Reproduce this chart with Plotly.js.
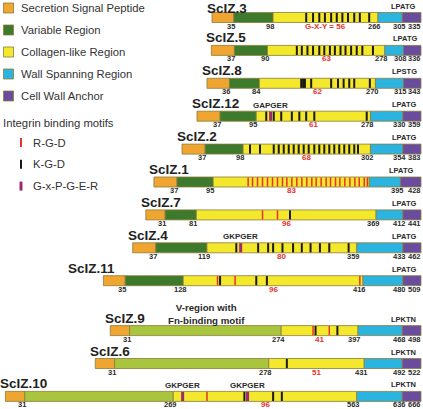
<!DOCTYPE html>
<html><head><meta charset="utf-8">
<script src="https://cdn.plot.ly/plotly-3.0.1.min.js"></script>
<style>html,body{margin:0;padding:0;background:#fff}#chart{width:423px;height:409px}</style>
</head><body><div id="chart"></div>
<script>
// ---- data (amino-acid positions) ----
const proteins     = ['ScIZ.3','ScIZ.5','ScIZ.8','ScIZ.12','ScIZ.2','ScIZ.1','ScIZ.7','ScIZ.4','ScIZ.11','ScIZ.9','ScIZ.6','ScIZ.10'];
const lengths      = [335, 336, 343, 359, 383, 428, 441, 462, 509, 498, 522, 666];
const signalEnd    = [35, 37, 36, 37, 37, 37, 31, 37, 35, 31, 31, 31];
const variableEnd  = [98, 90, 84, 95, 98, 95, 81, 119, 128, 274, 278, 269];
const collagenEnd  = [266, 278, 270, 278, 302, 345, 369, 359, 416, 397, 431, 563];
const collagenEndLabelled = [true, true, true, true, true, false, true, true, true, true, true, true];
const anchorStart  = [305, 308, 315, 330, 354, 395, 412, 433, 480, 468, 492, 636];
const fnBindingV   = [false, false, false, false, false, false, false, false, false, true, true, true];
const gxyCounts    = ['G-X-Y = 56', '63', '62', '61', '68', '83', '96', '80', '96', '41', '51', '96'];
const sortingMotif = ['LPATG','LPATG','LPSTG','LPATG','LPATG','LPATG','LPATG','LPATG','LPATG','LPKTN','LPKTN','LPKTN'];
const rgdSites = [
  [], [], [], [], [],
  [151,158,166,174,182,190,198,206,213,221,229,237,245,253,260,268,276,283,291,298,306,314,322,329,337,342],
  [187, 211], [], [183, 211, 411], [325, 351], [], [323]
];
const kgdSites = [
  [151,162,172,181,191,200,209,218,228,237,252],
  [137,145,154,163,173,181,190,198,207,215,224,233,242,259],
  [151,154,157,167,199,210,219,228,236,261],
  [111,123,135,152,164,175,188,272],
  [109,125,147,155,163,171,179,187,195,203,212,220,228,236,244,252,260,268,276,282],
  [], [231],
  [166,201,217,225,240,257,271,285,300,315,346],
  [187, 245, 262], [329, 364], [307], [383, 429, 443]
];
const gxpgerSites  = [[], [], [], [118], [], [], [], [173], [], [], [], [284, 388]];
const gxpgerLabels = [[], [], [], ['GAPGER'], [], [], [], ['GKPGER'], [], [], [], ['GKPGER', 'GKPGER']];
const legendRegions = ['Secretion Signal Peptide','Variable Region','Collagen-like Region','Wall Spanning Region','Cell Wall Anchor'];
const legendMotifs  = ['R-G-D','K-G-D','G-x-P-G-E-R'];

// ---- styles ----
const W = 423, H = 409;
const COL = {signal:'#EFA52F', variable:'#3E7A2C', fn:'#A9C53E', collagen:'#F3E82C', wall:'#2BB4E0', anchor:'#6A4C9E'};
const OUT = '#8A7C3C';
const MOTIF = {rgd:'#E8322B', kgd:'#1A1A1A', gx:'#9E2A6E'};
const FONT = 'Arial, "Liberation Sans", sans-serif';
const TXT = '#2a2a2a';
const shapes = [], annotations = [];
function rowY(i){ return 17.5 + 32.9 * i + (i >= 9 ? 17 : 0); }
function px(p){ return p / W; }
function ann(o){ annotations.push(Object.assign({showarrow:false, xref:'x', yref:'y', borderpad:0}, o)); }

proteins.forEach((name, i) => {
  const L = lengths[i], off = -L, yc = rowY(i), top = yc - 5, bot = yc + 5;
  const segs = [
    [0, signalEnd[i], COL.signal],
    [signalEnd[i], variableEnd[i], fnBindingV[i] ? COL.fn : COL.variable],
    [variableEnd[i], collagenEnd[i], COL.collagen],
    [collagenEnd[i], anchorStart[i], COL.wall],
    [anchorStart[i], L, COL.anchor]
  ];
  segs.forEach(s => shapes.push({type:'rect', xref:'x', yref:'y', x0:s[0]+off, x1:s[1]+off, y0:top, y1:bot,
    fillcolor:s[2], line:{color:OUT, width:0.8}}));
  kgdSites[i].forEach(p => shapes.push({type:'line', xref:'x', yref:'y', x0:p+off, x1:p+off, y0:top+0.4, y1:bot-0.4, line:{color:MOTIF.kgd, width:2}}));
  rgdSites[i].forEach(p => shapes.push({type:'line', xref:'x', yref:'y', x0:p+off, x1:p+off, y0:top+0.4, y1:bot-0.4, line:{color:MOTIF.rgd, width:1.5}}));
  gxpgerSites[i].forEach((p, k) => {
    shapes.push({type:'line', xref:'x', yref:'y', x0:p+off, x1:p+off, y0:top+0.4, y1:bot-0.4, line:{color:MOTIF.gx, width:3}});
    ann({x:p+off, y:top-6, text:'<b>'+gxpgerLabels[i][k]+'</b>', font:{family:FONT, size:8, color:TXT}, xanchor:'center', yanchor:'middle'});
  });
  // protein name
  ann({x:off, y:Math.max(yc-12.5, 8.6), text:'<b>'+name+'</b>', font:{family:FONT, size:13.5, color:'#222'}, xanchor:'left', yanchor:'middle', xshift: name === 'ScIZ.11' ? -36 : -6});
  // boundary numbers
  const nums = [signalEnd[i], variableEnd[i]];
  if (collagenEndLabelled[i]) nums.push(collagenEnd[i]);
  nums.push(anchorStart[i]);
  nums.forEach(n => ann({x:n+off, y:yc+8.5, text:'<b>'+n+'</b>', font:{family:FONT, size:7.5, color:TXT}, xanchor:'center', yanchor:'middle', xshift:-3}));
  ann({x:0, y:yc+8.5, text:'<b>'+L+'</b>', font:{family:FONT, size:7.5, color:TXT}, xanchor:'right', yanchor:'middle', xshift:1});
  // G-X-Y count
  ann({x:(variableEnd[i]+collagenEnd[i])/2+off, y:yc+8.5, text:'<b>'+gxyCounts[i]+'</b>', font:{family:FONT, size:8, color:'#E8322B'}, xanchor:'center', yanchor:'middle'});
  // sorting motif
  ann({x:anchorStart[i]+off, y:yc-11.5, text:'<b>'+sortingMotif[i]+'</b>', font:{family:FONT, size:7.5, color:TXT}, xanchor:'center', yanchor:'middle', xshift:1});
});

// V-region note
annotations.push({showarrow:false, xref:'paper', yref:'y', x:px(206.7), y:313.5, text:'<b>V-region with<br>Fn-binding motif</b>',
  font:{family:FONT, size:9.7, color:TXT}, xanchor:'center', yanchor:'middle', borderpad:0});

// legend
const legendColors = [COL.signal, COL.variable, COL.collagen, COL.wall, COL.anchor];
legendRegions.forEach((t, k) => {
  const y = 8 + 22 * k;
  shapes.push({type:'rect', xref:'paper', yref:'y', x0:px(3.5), x1:px(13.5), y0:y-5, y1:y+5, fillcolor:legendColors[k], line:{color:OUT, width:0.8}});
  annotations.push({showarrow:false, xref:'paper', yref:'y', x:px(19.5), y:y, text:t, font:{family:FONT, size:11.3, color:'#333'}, xanchor:'left', yanchor:'middle', borderpad:0});
});
annotations.push({showarrow:false, xref:'paper', yref:'y', x:px(2), y:122.7, text:'Integrin binding motifs', font:{family:FONT, size:11.3, color:'#333'}, xanchor:'left', yanchor:'middle', borderpad:0});
const legendMotifColors = [MOTIF.rgd, MOTIF.kgd, MOTIF.gx];
const legendMotifWidths = [2, 2, 3];
legendMotifs.forEach((t, k) => {
  const y = 142.5 + 21.8 * k;
  shapes.push({type:'line', xref:'paper', yref:'y', x0:px(21), x1:px(21), y0:y-4.5, y1:y+4.5, line:{color:legendMotifColors[k], width:legendMotifWidths[k]}});
  annotations.push({showarrow:false, xref:'paper', yref:'y', x:px(32), y:y, text:t, font:{family:FONT, size:11.3, color:'#333'}, xanchor:'left', yanchor:'middle', borderpad:0});
});

const layout = {
  width:W, height:H, margin:{l:0, r:0, t:0, b:0},
  paper_bgcolor:'#fff', plot_bgcolor:'#fff', showlegend:false,
  xaxis:{range:[-674.7, 3.2], visible:false, fixedrange:true},
  yaxis:{range:[H, 0], visible:false, fixedrange:true},
  shapes:shapes, annotations:annotations
};
Plotly.newPlot('chart', [], layout, {staticPlot:true, displayModeBar:false});
</script>
</body></html>
